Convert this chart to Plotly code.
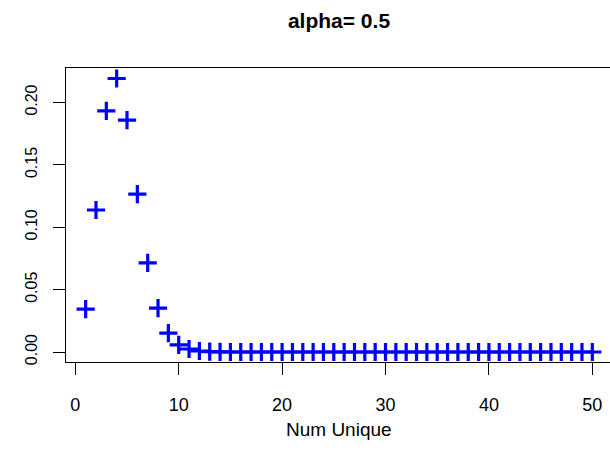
import plotly.graph_objects as go

num_unique = list(range(1, 51))
prob = [0.0344, 0.1138, 0.1933, 0.2192, 0.1858, 0.1266, 0.0714, 0.0352, 0.0152, 0.0058,
        0.0024, 0.0008, 0.0003, 0.0001] + [0.0] * 36
x_ticks = [0, 10, 20, 30, 40, 50]
y_ticks = [0.00, 0.05, 0.10, 0.15, 0.20]
y_tick_text = ["0.00", "0.05", "0.10", "0.15", "0.20"]

FONT = "Liberation Sans, Arial, sans-serif"

fig = go.Figure(go.Scatter(
    x=num_unique, y=prob, mode="markers",
    marker=dict(symbol="cross-thin", size=13, line=dict(color="#0000FF", width=3.2), color="#0000FF"),
))

plot_h = 472 - 68 - 110

fig.update_layout(
    width=610, height=472,
    margin=dict(l=66, r=0, t=68, b=110),
    paper_bgcolor="white", plot_bgcolor="white",
    showlegend=False,
    font=dict(family=FONT, size=16, color="black"),
    title=dict(text="<b>alpha= 0.5</b>", x=339/610, xanchor="center",
               y=1 - 21/472, yanchor="middle", yref="container",
               font=dict(family=FONT, size=21, color="black")),
    annotations=[dict(text="Num Unique", x=0.5, xref="paper", xanchor="center",
                      y=(362.3 - 430) / plot_h, yref="paper", yanchor="middle",
                      showarrow=False, font=dict(family=FONT, size=19, color="black"))],
)
# center annotation under full (off-screen-extended) plot box: 66..612.6
fig.layout.annotations[0].x = (339 - 66) / (610 - 66)

fig.update_xaxes(
    range=[-0.9, 51.71], tickvals=x_ticks, ticktext=[str(v) for v in x_ticks],
    showgrid=False, zeroline=False, showline=True, mirror=True,
    linecolor="black", linewidth=1, ticks="outside", ticklen=12, tickcolor="black",
    ticklabelstandoff=14, tickfont=dict(size=18),
)
fig.update_yaxes(
    range=[-0.008, 0.2276], tickvals=y_ticks, ticktext=y_tick_text,
    showgrid=False, zeroline=False, showline=True, mirror=False,
    linecolor="black", linewidth=1, ticks="outside", ticklen=12, tickcolor="black",
    tickangle=-90, ticklabelstandoff=10, tickfont=dict(size=16),
)

fig.write_html("out.html")
